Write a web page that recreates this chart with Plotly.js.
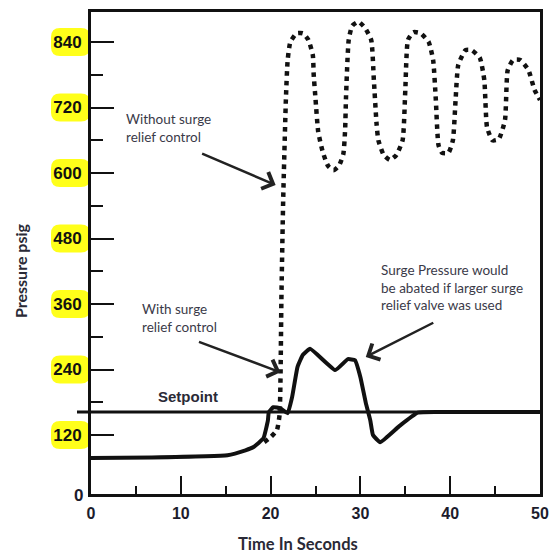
<!DOCTYPE html>
<html><head><meta charset="utf-8">
<script src="https://cdn.plot.ly/plotly-3.0.1.min.js"></script>
<style>html,body{margin:0;padding:0;background:#fff}#chart{width:549px;height:555px}</style>
</head><body><div id="chart"></div>
<script>
// ---- data ----
const timeWith = [0, 6.7, 15.2, 17.2, 18.1, 19.2, 19.7, 19.8, 20.3, 21.1, 21.9, 22.4, 23.0, 23.6, 24.4, 27.2, 28.6, 29.4, 30.0, 30.6, 31.1, 31.4, 32.2, 34.3, 36.4, 40, 50];
const pressureWith = [78, 79, 83, 92, 98, 114, 147, 162, 171, 169, 160, 190, 245, 267, 278, 239, 259, 257, 226, 179, 147, 120, 107, 136, 161, 162, 162];

const timeWithout = [19.3, 20.0, 20.7, 21.0, 21.1, 21.2, 21.4, 21.7, 21.9, 22.2, 22.9, 23.6, 24.2, 24.7, 24.8, 25.0, 25.3, 25.8, 26.4, 27.0, 27.6, 28.1, 28.3, 28.4, 28.7, 29.1, 29.8, 30.5, 31.2, 31.5, 31.8, 32.0, 32.6, 33.3, 34.0, 34.7, 35.0, 35.3, 35.9, 36.7, 37.6, 38.1, 38.4, 38.7, 39.1, 39.8, 40.3, 40.6, 40.9, 41.7, 42.4, 43.3, 43.8, 44.1, 44.7, 45.4, 46.1, 46.4, 47.0, 47.8, 48.7, 49.4, 50];
const pressureWithout = [107, 116, 129, 157, 221, 367, 550, 734, 807, 840, 856, 856, 844, 816, 780, 736, 676, 639, 613, 605, 613, 635, 680, 740, 844, 870, 877, 866, 844, 770, 690, 660, 633, 624, 633, 660, 752, 844, 858, 856, 840, 807, 734, 651, 637, 637, 660, 734, 798, 825, 825, 811, 770, 684, 660, 662, 697, 788, 807, 807, 789, 752, 734];

const setpoint = 162;
const yTickVals = [120, 240, 360, 480, 600, 720, 840];
const yTickText = ['120', '240', '360', '480', '600', '720', '840'];
const yMinorVals = [180, 300, 420, 540, 660, 780];
const xTickVals = [0, 10, 20, 30, 40, 50];
const xTickText = ['0', '10', '20', '30', '40', '50'];
const xMinorVals = [5, 15, 25, 35, 45];

// ---- layout geometry ----
const W = 549, H = 555;
const M = {l: 91, r: 9, t: 12, b: 61};
const X_RANGE = [0, 50], Y_RANGE = [12, 895];
const plotW = W - M.l - M.r, plotH = H - M.t - M.b;
const unitsPerPx = (Y_RANGE[1] - Y_RANGE[0]) / plotH;
const INK = '#111111';
const TXT = '#3a3a48';
const numFont = 'Arial, "Liberation Sans", sans-serif';
const txtFont = 'Lato, "Open Sans", sans-serif';

// yellow rounded highlight behind each y tick label
function pill(v) {
  const x0 = (51 - M.l) / plotW, x1 = (90 - M.l) / plotW;
  const rx = 9 / plotW;
  const hh = 14 * unitsPerPx, ry = 9 * unitsPerPx;
  const y0 = v - hh, y1 = v + hh;
  const p = `M${x0 + rx},${y0} L${x1 - rx},${y0} Q${x1},${y0} ${x1},${y0 + ry} L${x1},${y1 - ry} Q${x1},${y1} ${x1 - rx},${y1} L${x0 + rx},${y1} Q${x0},${y1} ${x0},${y1 - ry} L${x0},${y0 + ry} Q${x0},${y0} ${x0 + rx},${y0} Z`;
  return {type: 'path', xref: 'paper', yref: 'y', path: p, fillcolor: '#ffff1a', line: {width: 0}, layer: 'below'};
}

const shapes = yTickVals.map(pill);
shapes.push({type: 'line', xref: 'paper', yref: 'y', x0: (77 - M.l) / plotW, x1: 1, y0: setpoint, y1: setpoint,
  line: {color: INK, width: 3}});

function arrow(x, y, ax, ay) {
  return {x: x, y: y, xref: 'x', yref: 'y', text: ' ', font: {size: 1}, showarrow: true,
    ax: ax, ay: ay, arrowhead: 4, arrowsize: 1.4, arrowwidth: 2.5, arrowcolor: '#222', standoff: 0};
}

const annotations = [
  {x: 10.8, y: 190, xref: 'x', yref: 'y', text: '<b>Setpoint</b>', showarrow: false,
    font: {family: numFont, size: 15, color: '#2a2a36'}},
  {x: 3.7, y: 682, xref: 'x', yref: 'y', text: 'Without surge<br>relief control', showarrow: false,
    xanchor: 'left', yanchor: 'middle', align: 'left', font: {family: txtFont, size: 13.5, color: TXT}},
  {x: 5.5, y: 335, xref: 'x', yref: 'y', text: 'With surge<br>relief control', showarrow: false,
    xanchor: 'left', yanchor: 'middle', align: 'left', font: {family: txtFont, size: 13.5, color: TXT}},
  {x: 32.1, y: 391, xref: 'x', yref: 'y', text: 'Surge Pressure would<br>be abated if larger surge<br>relief valve was used', showarrow: false,
    xanchor: 'left', yanchor: 'middle', align: 'left', font: {family: txtFont, size: 13.5, color: TXT}},
  arrow(20.56, 578, -75, -32),
  arrow(21.1, 235, -83, -31),
  arrow(30.6, 263, 69, -35),
  {xref: 'paper', yref: 'paper', x: 0, y: 0, xanchor: 'right', yanchor: 'middle', xshift: -6, yshift: -1,
    text: '<b>0</b>', showarrow: false, font: {family: numFont, size: 17, color: '#1c1c2c'}},
  {xref: 'paper', yref: 'paper', x: (20 - M.l) / plotW, y: (H - M.b - 271) / plotH, textangle: -90,
    text: '<b>Pressure psig</b>', showarrow: false, xanchor: 'center', yanchor: 'middle',
    font: {family: txtFont, size: 16, color: '#2a2a36'}},
  {xref: 'paper', yref: 'paper', x: (298 - M.l) / plotW, y: -(544 - (H - M.b)) / plotH,
    text: '<b>Time In Seconds</b>', showarrow: false, xanchor: 'center', yanchor: 'middle',
    font: {family: txtFont, size: 16.5, color: '#2a2a36'}}
];

const traces = [
  {x: timeWith, y: pressureWith, type: 'scatter', mode: 'lines', name: 'With surge relief control',
    line: {color: INK, width: 4, shape: 'spline', smoothing: 0.35}},
  {x: timeWithout, y: pressureWithout, type: 'scatter', mode: 'lines', name: 'Without surge relief control',
    line: {color: INK, width: 4.5, dash: '4.5px,4.8px', shape: 'spline', smoothing: 0.5}}
];

const layout = {
  width: W, height: H, margin: M, showlegend: false,
  paper_bgcolor: '#ffffff', plot_bgcolor: '#ffffff',
  xaxis: {range: X_RANGE, tickmode: 'array', tickvals: xTickVals, ticktext: xTickText,
    ticks: 'inside', ticklen: 18, tickwidth: 2, tickcolor: INK,
    showline: true, linewidth: 3, linecolor: INK, mirror: true, showgrid: false, zeroline: false,
    ticklabelstandoff: 3,
    tickfont: {family: numFont, size: 16, color: '#1c1c2c', weight: 'bold'},
    minor: {tickmode: 'array', tickvals: xMinorVals, ticks: 'inside', ticklen: 8, tickwidth: 2, tickcolor: INK, showgrid: false}},
  yaxis: {range: Y_RANGE, tickmode: 'array', tickvals: yTickVals, ticktext: yTickText,
    ticks: 'inside', ticklen: 23, tickwidth: 2, tickcolor: INK,
    showline: true, linewidth: 3, linecolor: INK, mirror: true, showgrid: false, zeroline: false,
    ticklabelstandoff: 3,
    tickfont: {family: numFont, size: 17, color: '#111111', weight: 'bold'},
    minor: {tickmode: 'array', tickvals: yMinorVals, ticks: 'inside', ticklen: 12, tickwidth: 2, tickcolor: INK, showgrid: false}},
  shapes: shapes,
  annotations: annotations
};

Plotly.newPlot('chart', traces, layout, {staticPlot: true, displayModeBar: false});
</script>
</body></html>
